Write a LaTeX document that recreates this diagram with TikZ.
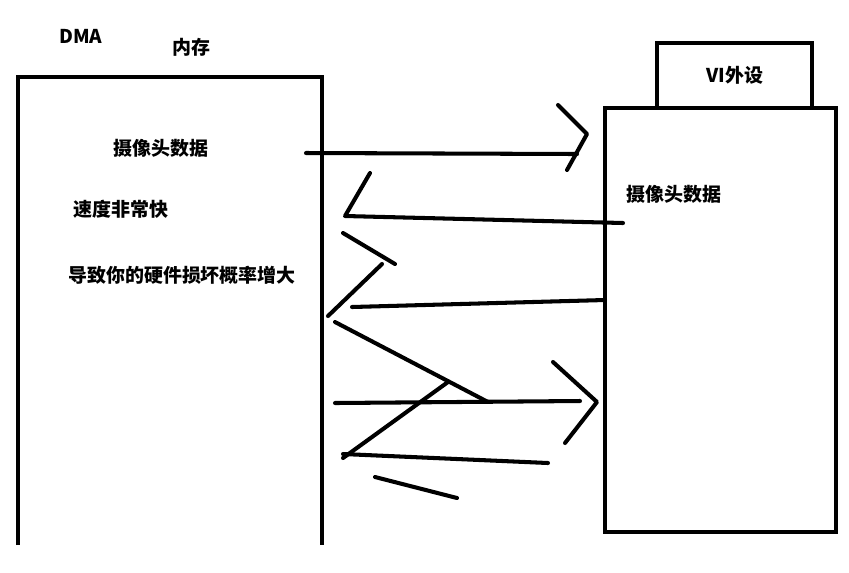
\documentclass[tikz,border=0pt]{standalone}
\usepackage{fontspec}
\setmainfont{Noto Sans CJK SC}
\usetikzlibrary{positioning}
\tikzset{
  frame/.style={draw=black,line width=1.15pt},
  pen/.style={draw=black,line width=1.15pt,line cap=round,line join=round},
  lbl/.style={font=\fontsize{5.4}{6.5}\selectfont\bfseries,inner sep=0pt}
}

\begin{document}
\begin{tikzpicture}[x=0.01cm,y=-0.01cm]
    \path[use as bounding box] (0,0) rectangle (849,572);

    % memory (open at the bottom), peripheral, VI tab
    \draw[frame] (18,545) -- (18,77) -- (322,77) -- (322,545);
    \draw[frame] (605,108) rectangle (836,532);
    \draw[frame] (657,108) -- (657,43) -- (812,43) -- (812,108);

    \node[lbl] (dma) at (81,36) {DMA};
    \node[lbl] (mem) at (191,47) {内存};
    \node[lbl] (vi) at (735,75) {VI外设};
    \node[lbl] (camL) at (161,148) {摄像头数据};
    \node[lbl] (speed) at (121,209) {速度非常快};
    \node[lbl] (risk) at (182,275) {导致你的硬件损坏概率增大};
    \node[lbl] (camR) at (674,194) {摄像头数据};

    % hand-drawn strokes
    \draw[pen] (306,153) -- (577,154);
    \draw[pen] (558,105) -- (587,134) -- (567,170);
    \draw[pen] (370,173) -- (345,216) -- (623,223);
    \draw[pen] (343,233) -- (395,264);
    \draw[pen] (382,264) -- (328,316);
    \draw[pen] (352,307) -- (605,300);
    \draw[pen] (335,322) -- (488,402);
    \draw[pen] (335,403) -- (580,401);
    \draw[pen] (553,362) -- (597,402) -- (565,443);
    \draw[pen] (448,382) -- (343,458);
    \draw[pen] (343,454) -- (548,463);
    \draw[pen] (375,477) -- (457,498);
\end{tikzpicture}
\end{document}
